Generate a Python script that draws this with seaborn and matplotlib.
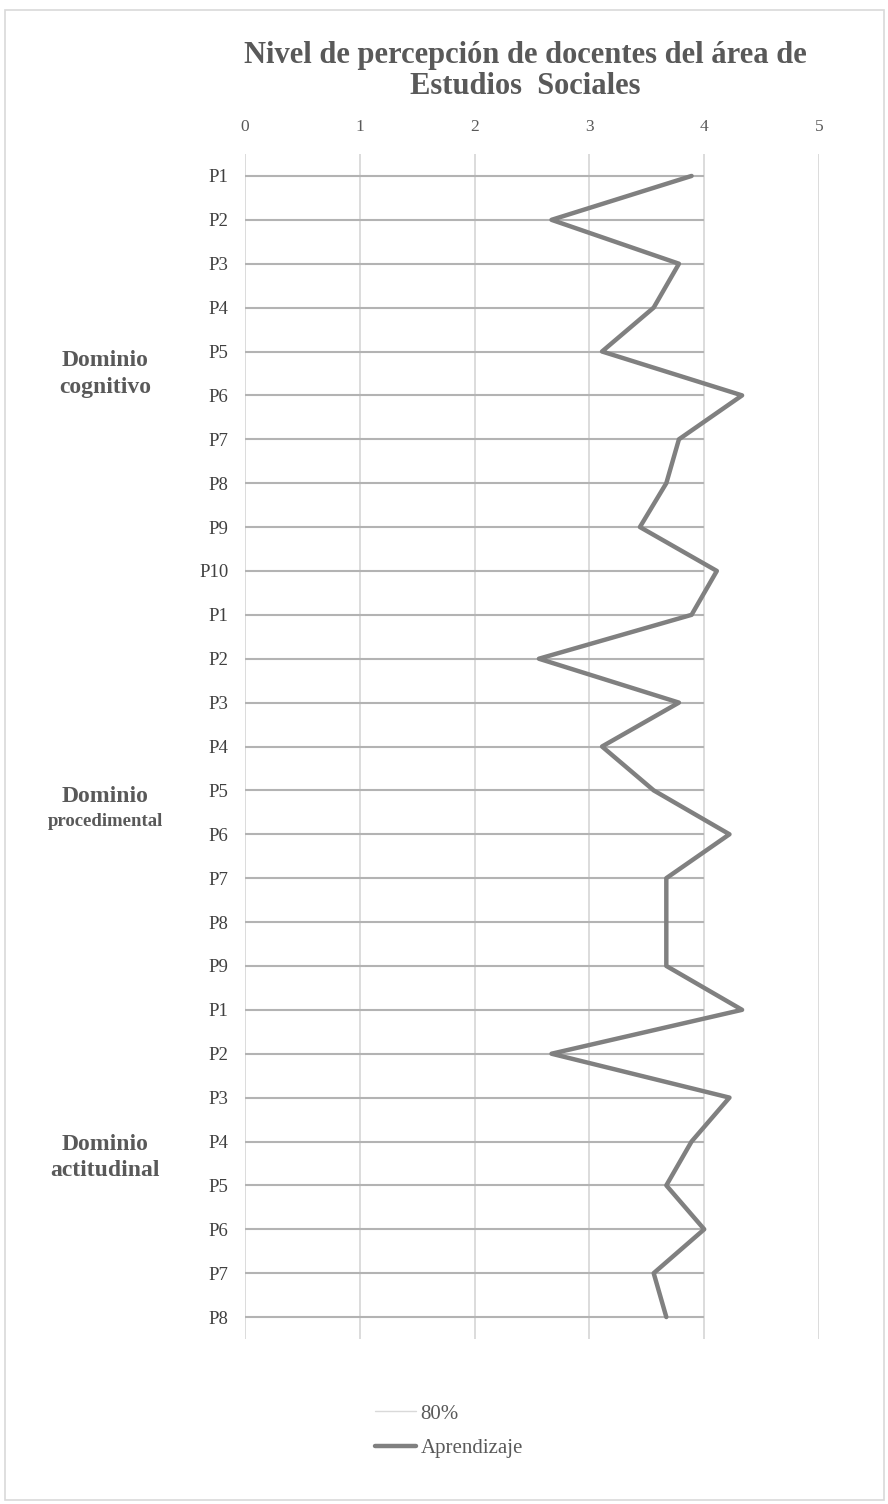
import numpy as np
import pandas as pd
import matplotlib
matplotlib.use("Agg")
import matplotlib.pyplot as plt
from matplotlib.lines import Line2D
from matplotlib.patches import Rectangle
import seaborn as sns

# Items per domain
cognitivo_items = ["P1", "P2", "P3", "P4", "P5", "P6", "P7", "P8", "P9", "P10"]
procedimental_items = ["P1", "P2", "P3", "P4", "P5", "P6", "P7", "P8", "P9"]
actitudinal_items = ["P1", "P2", "P3", "P4", "P5", "P6", "P7", "P8"]

# Mean learning scores per item
cognitivo_scores = [3.89, 2.67, 3.78, 3.56, 3.11, 4.33, 3.78, 3.67, 3.44, 4.11]
procedimental_scores = [3.89, 2.56, 3.78, 3.11, 3.56, 4.22, 3.67, 3.67, 3.67]
actitudinal_scores = [4.33, 2.67, 4.22, 3.89, 3.67, 4.00, 3.56, 3.67]

# 80 % reference level (4 out of 5)
target_level = 4.0

domain_names = ["Dominio\ncognitivo", "Dominio\nprocedimental", "Dominio\nactitudinal"]
x_ticks = [0, 1, 2, 3, 4, 5]

labels = cognitivo_items + procedimental_items + actitudinal_items
scores = cognitivo_scores + procedimental_scores + actitudinal_scores
df = pd.DataFrame({"pos": np.arange(len(labels)), "item": labels, "score": scores,
                   "target": [target_level] * len(labels)})

sns.set_theme(style="white")
plt.rcParams["font.family"] = ["Liberation Serif", "DejaVu Serif"]

fig = plt.figure(figsize=(8.88, 15.04), dpi=100)
fig.patch.set_facecolor("white")
fig.patches.append(Rectangle((5 / 888, 4 / 1504), 879 / 888, 1490 / 1504,
                             transform=fig.transFigure, fill=False,
                             edgecolor="#d9d9d9", linewidth=1.2))

ax = fig.add_axes([245 / 888, 165 / 1504, 574 / 888, 1185 / 1504])

# vertical gridlines
for v in x_ticks:
    ax.axvline(v, color="#d9d9d9", linewidth=1.3, zorder=0)

# 80% reference bars: one segment per item from 0 to the target level
ax.hlines(df["pos"], 0, df["target"], color="#b3b3b3", linewidth=1.5, zorder=1)

# learning line
sns.lineplot(data=df, x="score", y="pos", orient="y", sort=False, ax=ax,
             color="#808080", linewidth=3.2, zorder=3, legend=False)

ax.set_xlim(0, 5)
ax.set_ylim(len(labels) - 0.5, -0.5)
ax.set_xticks(x_ticks)
ax.set_xticklabels([str(t) for t in x_ticks])
ax.xaxis.tick_top()
ax.set_yticks(df["pos"])
ax.set_yticklabels(labels)
ax.tick_params(axis="x", length=0, pad=14, labelsize=12.5, labelcolor="#595959")
ax.tick_params(axis="y", length=0, pad=12, labelsize=13.5, labelcolor="#404040")
ax.set_xlabel("")
ax.set_ylabel("")
for s in ax.spines.values():
    s.set_visible(False)

# title
fig.text(525 / 888, 1 - 56 / 1504, "Nivel de percepción de docentes del área de",
         ha="center", va="center", fontsize=22, fontweight="bold", color="#595959")
fig.text(525 / 888, 1 - 87 / 1504, "Estudios  Sociales",
         ha="center", va="center", fontsize=22, fontweight="bold", color="#595959")

# domain labels
domain_pos = [(360, 388, 17), (797, 821, 13.5), (1144, 1171, 17)]
for name, (y1, y2, fs2) in zip(domain_names, domain_pos):
    first, second = name.split("\n")
    fig.text(105 / 888, 1 - y1 / 1504, first, ha="center", va="center",
             fontsize=17, fontweight="bold", color="#595959")
    fig.text(105 / 888, 1 - y2 / 1504, second, ha="center", va="center",
             fontsize=fs2, fontweight="bold", color="#595959")

# legend
handles = [Line2D([], [], color="#d9d9d9", linewidth=1.0),
           Line2D([], [], color="#808080", linewidth=3.2)]
fig.legend(handles, ["80%", "Aprendizaje"], loc="center left",
           bbox_to_anchor=(356 / 888, 1 - 1431 / 1504), frameon=False,
           fontsize=15, handlelength=2.0, handletextpad=0.2, labelspacing=0.7,
           labelcolor="#595959")

fig.savefig("out.png", dpi=100)
